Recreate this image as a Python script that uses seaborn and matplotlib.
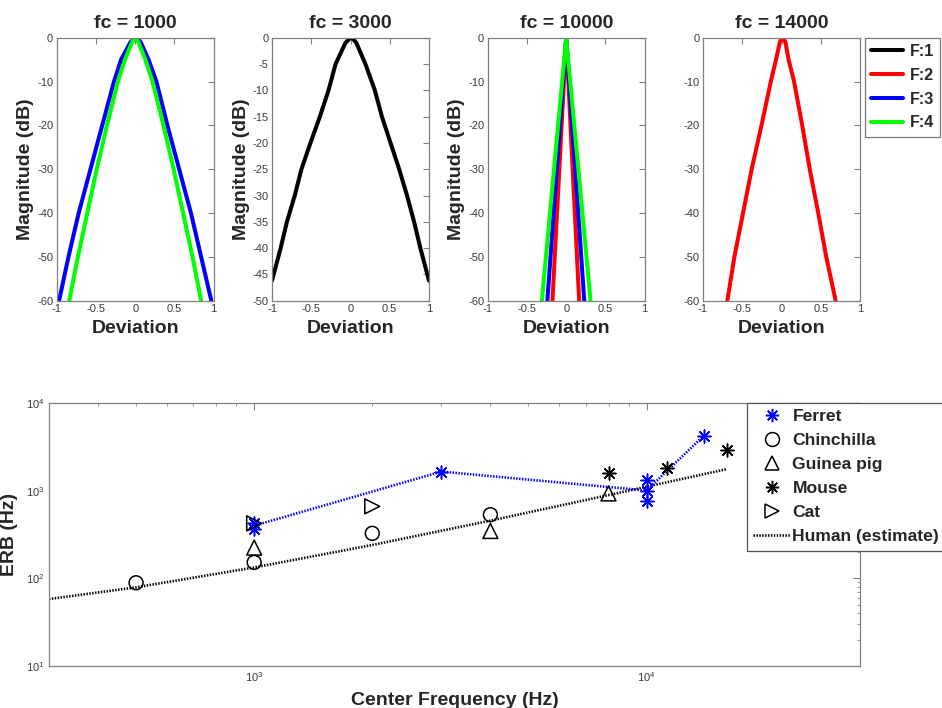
import matplotlib
matplotlib.use("Agg")
import matplotlib.pyplot as plt
from matplotlib.lines import Line2D
import seaborn as sns

# ---- Filter shapes: magnitude (dB) against normalised frequency deviation ----
# fc = 1000 Hz
dev_1000_f3 = [-0.97, -0.85, -0.72, -0.57, -0.42, -0.27, -0.18, -0.06, 0.0, 0.02,
               0.07, 0.17, 0.27, 0.41, 0.56, 0.71, 0.84, 0.97]
mag_1000_f3 = [-60, -50, -40, -30, -20, -10, -5, -1, 0, 0,
               -1, -5, -10, -20, -30, -40, -50, -60]
dev_1000_f4 = [-0.84, -0.73, -0.61, -0.49, -0.36, -0.22, -0.13, -0.04, 0.0,
               0.04, 0.13, 0.22, 0.36, 0.49, 0.61, 0.73, 0.84]
mag_1000_f4 = [-60, -50, -40, -30, -20, -10, -5, -1, 0,
               -1, -5, -10, -20, -30, -40, -50, -60]
# fc = 3000 Hz
dev_3000_f1 = [-1.0, -0.89, -0.81, -0.71, -0.625, -0.51, -0.39, -0.28, -0.19, -0.065,
               0.0, 0.02, 0.075, 0.19, 0.31, 0.40, 0.51, 0.62, 0.72, 0.81, 0.89, 1.0]
mag_3000_f1 = [-46.2, -40, -35, -30, -25, -20, -15, -10, -5, -1,
               0, 0, -1, -5, -10, -15, -20, -25, -30, -35, -40, -46.2]
# fc = 10000 Hz
dev_10000_f2 = [-0.175, 0.0, 0.165]
mag_10000_f2 = [-60, 0, -60]
dev_10000_f3 = [-0.24, 0.0, 0.23]
mag_10000_f3 = [-60, 0, -60]
dev_10000_f4 = [-0.31, 0.0, 0.31]
mag_10000_f4 = [-60, 0, -60]
# fc = 14000 Hz
dev_14000_f2 = [-0.69, -0.60, -0.49, -0.38, -0.255, -0.136, -0.07, -0.02, 0.0, 0.02,
                0.05, 0.09, 0.16, 0.264, 0.36, 0.468, 0.57, 0.69]
mag_14000_f2 = [-60, -50, -40, -30, -20, -10, -5, -1, 0, 0,
                -1, -5, -10, -20, -30, -40, -50, -60]

filter_labels = ["F:1", "F:2", "F:3", "F:4"]
filter_colors = ["black", "red", "blue", "#00ff00"]

# ---- ERB against centre frequency ----
ferret_freq = [1000, 1000, 3000, 10000, 10000, 10000, 14000]
ferret_erb = [430, 370, 1650, 1330, 1000, 760, 4240]
chinchilla_freq = [500, 1000, 2000, 4000]
chinchilla_erb = [89, 152, 326, 532]
guineapig_freq = [1000, 4000, 8000]
guineapig_erb = [224, 347, 930]
mouse_freq = [8000, 11300, 16000]
mouse_erb = [1580, 1830, 2910]
cat_freq = [1000, 2000]
cat_erb = [424, 662]
human_freq = [300, 500, 1000, 2000, 4000, 8000, 16000]
human_erb = [58, 79, 133, 240, 455, 890, 1760]

sns.set_style("white")
plt.rcParams["font.family"] = ["Liberation Sans", "DejaVu Sans"]
plt.rcParams["axes.unicode_minus"] = False

AX_EDGE = "#808080"
TICK_TXT = "#3a3a3a"
LABEL_FS = 14
DOTTED = (0, (0.55, 0.55))

fig = plt.figure(figsize=(9.42, 7.08), dpi=100)
W, H = 942.0, 708.0


def frame(ax):
    for s in ax.spines.values():
        s.set_visible(True)
        s.set_color(AX_EDGE)
        s.set_linewidth(0.9)
    ax.tick_params(which="both", direction="in", top=True, right=True,
                   colors=AX_EDGE, labelcolor=TICK_TXT, labelsize=8)


panels = [
    (1000, 56.7, -60, 10, [(2, dev_1000_f3, mag_1000_f3), (3, dev_1000_f4, mag_1000_f4)]),
    (3000, 272.0, -50, 5, [(0, dev_3000_f1, mag_3000_f1)]),
    (10000, 487.7, -60, 10, [(1, dev_10000_f2, mag_10000_f2), (2, dev_10000_f3, mag_10000_f3),
                             (3, dev_10000_f4, mag_10000_f4)]),
    (14000, 703.0, -60, 10, [(1, dev_14000_f2, mag_14000_f2)]),
]

for i, (fc, left_px, ymin, ystep, curves) in enumerate(panels):
    ax = fig.add_axes([left_px / W, 1 - 300.7 / H, 157.0 / W, 263.0 / H])
    for idx, dev, mag in curves:
        sns.lineplot(x=dev, y=mag, ax=ax, color=filter_colors[idx], lw=2.9,
                     sort=False, estimator=None, legend=False)
    ax.set_xlim(-1, 1)
    ax.set_ylim(ymin, 0)
    ax.set_xticks([-1, -0.5, 0, 0.5, 1])
    ax.set_xticklabels(["-1", "-0.5", "0", "0.5", "1"])
    ax.set_yticks(list(range(ymin, 1, ystep)))
    frame(ax)
    ax.tick_params(length=4, pad=2.5)
    ax.set_title(f"fc = {fc}", fontsize=LABEL_FS, fontweight="bold", pad=7)
    ax.set_xlabel("Deviation", fontsize=LABEL_FS, fontweight="bold", labelpad=4)
    if i < 3:
        ax.set_ylabel("Magnitude (dB)", fontsize=LABEL_FS, fontweight="bold", labelpad=2)
    else:
        ax.set_ylabel("")

f_handles = [Line2D([], [], color=c, lw=2.9) for c in filter_colors]
leg = fig.legend(f_handles, filter_labels, loc="upper left",
                 bbox_to_anchor=(865 / W, 1 - 37.7 / H), borderaxespad=0,
                 prop={"weight": "bold", "size": 11.5}, handlelength=2.0,
                 handletextpad=0.4, labelspacing=0.55, borderpad=0.4,
                 fancybox=False, frameon=True)
leg.get_frame().set_edgecolor("#555555")
leg.get_frame().set_linewidth(0.9)

# ---- lower panel ----
ax = fig.add_axes([49 / W, 42 / H, 811 / W, 263 / H])
ax.set_xscale("log")
ax.set_yscale("log")

sns.lineplot(x=human_freq, y=human_erb, ax=ax, color="black", lw=1.9,
             linestyle=DOTTED, sort=False, estimator=None, legend=False)
sns.lineplot(x=ferret_freq, y=ferret_erb, ax=ax, color="blue", lw=1.9,
             linestyle=DOTTED, estimator="mean", errorbar=None, legend=False)

STAR = (8, 2, 0)
sns.scatterplot(x=ferret_freq, y=ferret_erb, ax=ax, marker=STAR, color="blue",
                s=85, linewidth=1.1, legend=False, zorder=3)
sns.scatterplot(x=chinchilla_freq, y=chinchilla_erb, ax=ax, marker="o",
                facecolor="none", edgecolor="black", s=100, linewidth=1.1,
                legend=False, zorder=3)
sns.scatterplot(x=guineapig_freq, y=guineapig_erb, ax=ax, marker="^",
                facecolor="none", edgecolor="black", s=115, linewidth=1.1,
                legend=False, zorder=3)
sns.scatterplot(x=mouse_freq, y=mouse_erb, ax=ax, marker=STAR, color="black",
                s=85, linewidth=1.1, legend=False, zorder=3)
sns.scatterplot(x=cat_freq, y=cat_erb, ax=ax, marker=">",
                facecolor="none", edgecolor="black", s=115, linewidth=1.1,
                legend=False, zorder=3)

ax.set_xlim(300, 35000)
ax.set_ylim(10, 10000)
frame(ax)
ax.tick_params(which="major", length=5, pad=3)
ax.tick_params(which="minor", length=2.5)
ax.set_xlabel("Center Frequency (Hz)", fontsize=LABEL_FS, fontweight="bold", labelpad=6)
ax.set_ylabel("ERB (Hz)", fontsize=LABEL_FS, fontweight="bold", labelpad=6)

species = ["Ferret", "Chinchilla", "Guinea pig", "Mouse", "Cat", "Human (estimate)"]
s_handles = [
    Line2D([], [], ls="none", marker=STAR, color="blue", markersize=9.5, mew=1.1),
    Line2D([], [], ls="none", marker="o", mfc="none", mec="black", markersize=10, mew=1.1),
    Line2D([], [], ls="none", marker="^", mfc="none", mec="black", markersize=10.5, mew=1.1),
    Line2D([], [], ls="none", marker=STAR, color="black", markersize=9.5, mew=1.1),
    Line2D([], [], ls="none", marker=">", mfc="none", mec="black", markersize=10.5, mew=1.1),
    Line2D([], [], color="black", lw=1.9, ls=DOTTED),
]
leg2 = fig.legend(s_handles, species, loc="upper left",
                  bbox_to_anchor=(747 / W, 1 - 403 / H), borderaxespad=0,
                  prop={"weight": "bold", "size": 12.6}, handlelength=2.1,
                  handletextpad=0.15, labelspacing=0.5, borderpad=0.35,
                  fancybox=False, frameon=True, framealpha=1)
leg2.get_frame().set_edgecolor("#555555")
leg2.get_frame().set_linewidth(0.9)

fig.savefig("out.png", dpi=100)
